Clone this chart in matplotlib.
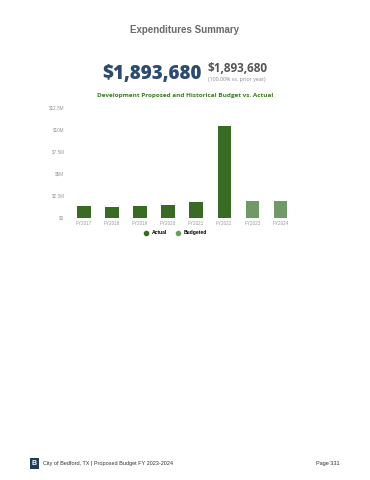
import matplotlib.pyplot as plt
from matplotlib.patches import Rectangle

years = ["FY2017", "FY2018", "FY2019", "FY2020", "FY2021", "FY2022", "FY2023", "FY2024"]
kinds = ["Actual", "Actual", "Actual", "Actual", "Actual", "Actual", "Budgeted", "Budgeted"]
values = [1.33e6, 1.30e6, 1.38e6, 1.45e6, 1.82e6, 10.5e6, 1.95e6, 1.89368e6]
ytick_vals = [0, 2.5e6, 5e6, 7.5e6, 10e6, 12.5e6]
ytick_labels = ["$0", "$2.5M", "$5M", "$7.5M", "$10M", "$12.5M"]

colors = {"Actual": "#386b23", "Budgeted": "#6f9a68"}
plt.rcParams['font.family'] = ['Liberation Sans', 'DejaVu Sans']

fig = plt.figure(figsize=(3.7, 4.8), dpi=100)

# header texts
fig.text(0.5, 1 - 30/480, "Expenditures Summary", ha='center', va='center',
         fontsize=7, color='#6b6b6b', fontweight='bold')
fig.text(0.545, 1 - 74/480, "$1,893,680", ha='right', va='center',
         fontsize=13.5, color='#2d4b6f', fontweight='heavy', family=['Open Sans', 'DejaVu Sans'])
fig.text(0.562, 1 - 68/480, "$1,893,680", ha='left', va='center',
         fontsize=8.5, color='#555555', fontweight='bold', family=['Open Sans', 'DejaVu Sans'])
fig.text(0.562, 1 - 80/480, "(100.00% vs. prior year)", ha='left', va='center',
         fontsize=3.8, color='#888888', family=['Open Sans', 'DejaVu Sans'])
fig.text(0.5, 1 - 96/480, "Development Proposed and Historical Budget vs. Actual", ha='center', va='center',
         fontsize=4.6, color='#3a7d1f', fontweight='bold', family=['Open Sans', 'DejaVu Sans'])

# chart axes
ax = fig.add_axes([70/370, 1 - 218/480, 230/370, 110/480])
x = range(len(years))
ax.bar(x, values, width=0.48, color=[colors[k] for k in kinds])
ax.set_xlim(-0.5, len(years) - 0.3)
ax.set_ylim(0, 12.5e6)
ax.set_yticks(ytick_vals)
ax.set_yticklabels(ytick_labels)
ax.set_xticks(list(x))
ax.set_xticklabels(years)
ax.tick_params(axis='both', length=0, labelsize=3.3, colors='#999999')
ax.tick_params(axis='y', pad=4)
ax.tick_params(axis='x', pad=2)
for s in ax.spines.values():
    s.set_visible(False)

# legend
handles = [plt.Line2D([], [], marker='o', linestyle='', color=colors[k], markersize=3) for k in ["Actual", "Budgeted"]]
fig.legend(handles, ["Actual", "Budgeted"], loc='center', bbox_to_anchor=(0.47, 1 - 233/480),
           ncol=2, frameon=False, handletextpad=0.2, columnspacing=1.2,
           prop={'weight': 'bold', 'size': 3.6})

# footer
logo = fig.add_axes([30/370, 1 - 469/480, 9/370, 11/480])
logo.add_patch(Rectangle((0, 0), 1, 1, color='#1f3b5c'))
logo.text(0.5, 0.5, "B", ha='center', va='center', color='white', fontsize=5, fontweight='bold')
logo.set_axis_off()
fig.text(43/370, 1 - 464/480, "City of Bedford, TX | Proposed Budget FY 2023-2024", ha='left', va='center',
         fontsize=4, color='#333333')
fig.text(340/370, 1 - 464/480, "Page 331", ha='right', va='center', fontsize=4, color='#333333')

fig.savefig("out.png", dpi=100)
